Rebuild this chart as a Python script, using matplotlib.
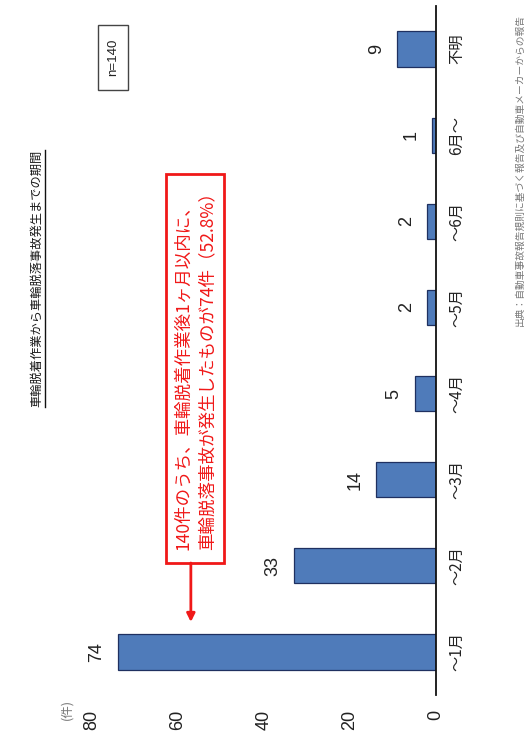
import matplotlib
matplotlib.use("Agg")
import matplotlib.pyplot as plt
from matplotlib.patches import Rectangle, FancyArrowPatch
from matplotlib.lines import Line2D

plt.rcParams['font.family'] = ['Noto Sans CJK JP', 'DejaVu Sans']
NUM_FONT = ['Liberation Sans', 'Noto Sans CJK JP']

# Data
categories = ["～1月", "～2月", "～3月", "～4月", "～5月", "～6月", "6月～", "不明"]
counts = [74, 33, 14, 5, 2, 2, 1, 9]
value_ticks = [0, 20, 40, 60, 80]
title = "車輪脱着作業から車輪脱落事故発生までの期間"
note = "140件のうち、車輪脱着作業後1ヶ月以内に、\n車輪脱落事故が発生したものが74件（52.8%）"
sample = "n=140"
unit = "(件)"
source = "出典：自動車事故報告規則に基づく報告及び自動車メーカーからの報告"

W, H = 532, 743
fig = plt.figure(figsize=(W / 100, H / 100), dpi=100)
fig.patch.set_facecolor("white")


def fx(px):
    return px / W


def fy(py):
    return 1 - py / H


# The chart is laid out turned a quarter turn: values run right-to-left,
# categories run bottom-to-top.
ax_left, ax_right, ax_top, ax_bottom = 60, 436, 6, 695
ax = fig.add_axes([fx(ax_left), fy(ax_bottom),
                   (ax_right - ax_left) / W, (ax_bottom - ax_top) / H])
pos = list(range(len(categories)))
ax.barh(pos, counts, height=0.41, color="#4F7BBA", edgecolor="#1F3060",
        linewidth=0.9)
px_per_unit = 344 / 80
ax.set_xlim((ax_right - ax_left) / px_per_unit, 0)
ax.set_ylim(-0.5, len(categories) - 0.5)

for s in ("top", "left", "bottom"):
    ax.spines[s].set_visible(False)
ax.spines["right"].set_color("#111111")
ax.spines["right"].set_linewidth(1.3)

ax.set_xticks(value_ticks)
ax.set_xticklabels([str(v) for v in value_ticks], rotation=90,
                   fontsize=13, family=NUM_FONT, color="#222222")
ax.tick_params(axis="x", length=0, pad=10.5)

ax.yaxis.tick_right()
ax.set_yticks(pos)
ax.set_yticklabels(categories, rotation=90, va="center", fontsize=11,
                   color="#222222")
ax.tick_params(axis="y", length=0, pad=8.5)

for p, c in zip(pos, counts):
    ax.annotate(str(c), xy=(c, p), xytext=(-21, 0), textcoords="offset pixels",
                rotation=90, ha="center", va="center", fontsize=13,
                family=NUM_FONT, color="#222222")

# Unit label
fig.text(fx(67), fy(710), unit, rotation=90, ha="center", va="center",
         fontsize=9, color="#777777")

# Title with underline
t_title = fig.text(fx(37), fy(407), title, rotation=90, ha="center",
                   va="bottom", fontsize=8.8, color="#1a1a1a")

# Sample size box
fig.add_artist(Rectangle((fx(98), fy(90)), 30 / W, 65 / H,
                         transform=fig.transFigure, fill=False,
                         ec="#444444", lw=1))
fig.text(fx(113), fy(57.5), sample, rotation=90, ha="center", va="center",
         fontsize=9.5, family=['Liberation Sans'], color="#222222")

# Callout
t_note = fig.text(fx(195), fy(550), note, rotation=90, ha="center",
                  va="bottom", multialignment="left", color="#F01818",
                  fontsize=12.6, linespacing=1.45)

# Source
fig.text(fx(520), fy(326), source, rotation=90, ha="center", va="bottom",
         fontsize=7.0, color="#777777")

fig.canvas.draw()
renderer = fig.canvas.get_renderer()

bb = t_title.get_window_extent(renderer)
ux = bb.x1 + 1
fig.add_artist(Line2D([ux / W, ux / W], [bb.y0 / H, bb.y1 / H],
                      transform=fig.transFigure, color="#111111", lw=1))

nb = t_note.get_window_extent(renderer)
x0, x1 = nb.x0 - 8, nb.x1 + 8
y0, y1 = nb.y0 - 13, nb.y1 + 9
fig.add_artist(Rectangle((x0 / W, y0 / H), (x1 - x0) / W, (y1 - y0) / H,
                         transform=fig.transFigure, fill=False,
                         ec="#F01818", lw=2))
arrow_x = x0 + 25
fig.add_artist(FancyArrowPatch((arrow_x / W, y0 / H),
                               (arrow_x / W, fy(622)),
                               transform=fig.transFigure, arrowstyle="-|>",
                               mutation_scale=12, color="#F01818", lw=2,
                               shrinkA=0, shrinkB=0))

fig.savefig("out.png", dpi=100)
